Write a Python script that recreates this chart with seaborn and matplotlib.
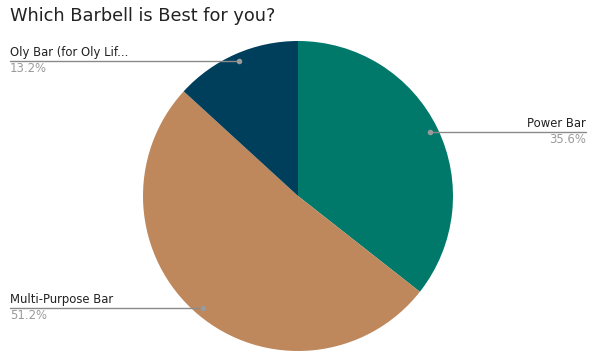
import numpy as np
import matplotlib
matplotlib.use("Agg")
import matplotlib.pyplot as plt
import seaborn as sns
from matplotlib.lines import Line2D

categories = ["Power Bar", "Multi-Purpose Bar", "Oly Bar (for Oly Lif..."]
values = [35.6, 51.2, 13.2]
pct_labels = ["35.6%", "51.2%", "13.2%"]
colors = ["#00796B", "#BF885C", "#003F5C"]
title = "Which Barbell is Best for you?"

sns.set_theme(style="white")
plt.rcParams['font.family'] = ['DejaVu Sans']

W, H = 600, 362
fig = plt.figure(figsize=(W / 100, H / 100), dpi=100)
fig.patch.set_facecolor("white")

cx, cy, R = 298, 196, 155
ax = fig.add_axes([(cx - R) / W, (H - cy - R) / H, 2 * R / W, 2 * R / H])
wedges, _ = ax.pie(values, colors=colors, startangle=90, counterclock=False,
                   radius=1.0, wedgeprops=dict(linewidth=0))
ax.set_xlim(-1, 1)
ax.set_ylim(-1, 1)
ax.set_aspect("auto")
ax.axis("off")

fig.text(10 / W, 1 - 16 / H, title, fontsize=12.8, color="#222222",
         ha="left", va="center")

fig.canvas.draw()
left_x, right_x = 10, 586
for w, cat, pct in zip(wedges, categories, pct_labels):
    th = np.deg2rad((w.theta1 + w.theta2) / 2)
    px, py = ax.transData.transform((0.95 * np.cos(th), 0.95 * np.sin(th)))
    fy = py / H
    if np.cos(th) >= 0:
        xe = right_x
        ha = "right"
    else:
        xe = left_x
        ha = "left"
    fig.add_artist(Line2D([px / W, xe / W], [fy, fy], color="#8a8a8a",
                          linewidth=1.0, transform=fig.transFigure))
    fig.add_artist(Line2D([px / W], [fy], marker="o", markersize=3,
                          color="#9a9a9a", linewidth=0,
                          transform=fig.transFigure))
    fig.text(xe / W, fy + 2 / H, cat, fontsize=8.4, color="#222222",
             ha=ha, va="bottom")
    fig.text(xe / W, fy - 1 / H, pct, fontsize=8.4, color="#9a9a9a",
             ha=ha, va="top")

fig.savefig("out.png", dpi=100, facecolor="white")
